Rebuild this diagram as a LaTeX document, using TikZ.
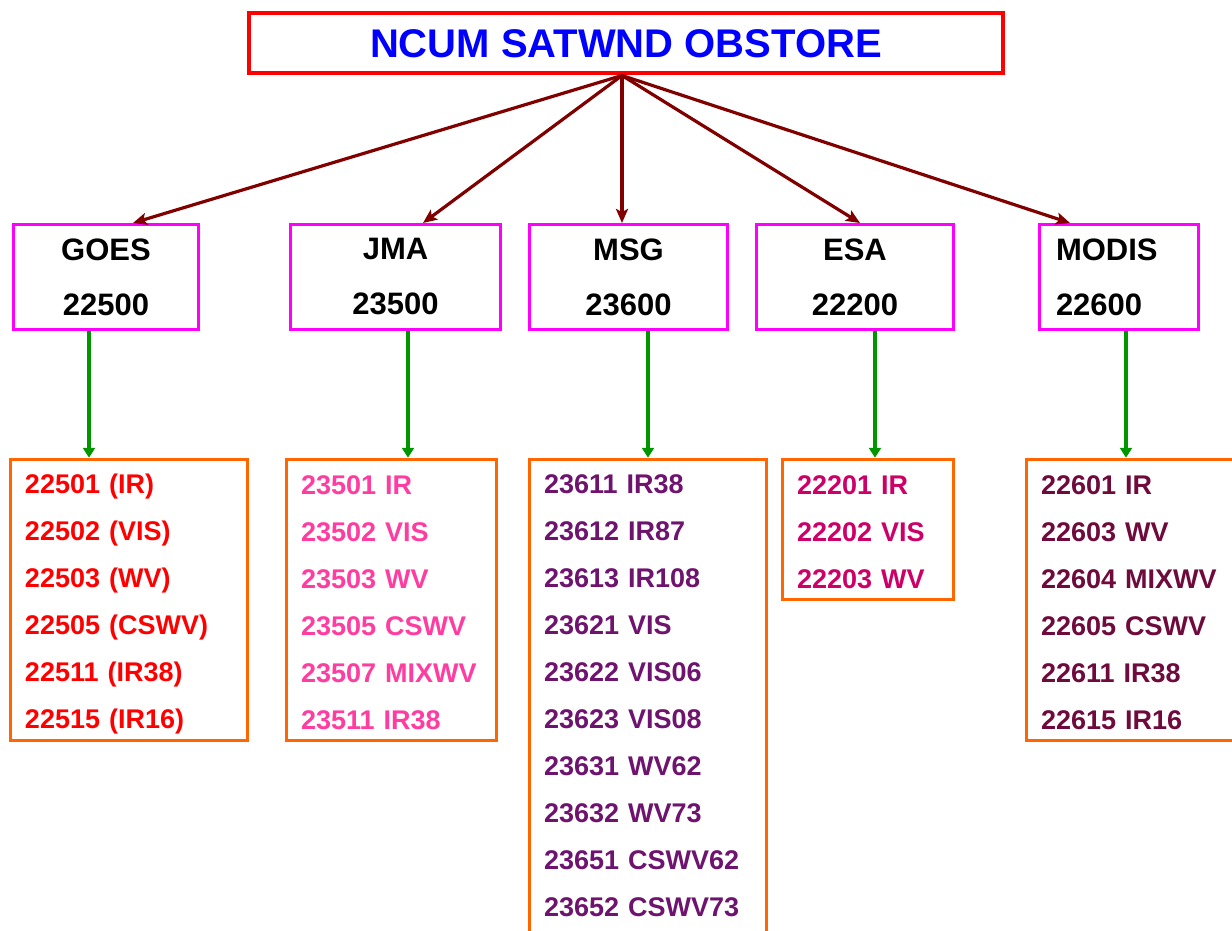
\documentclass[tikz,border=0pt]{standalone}
\usepackage{fontspec}
\setmainfont{Liberation Sans}
\usetikzlibrary{arrows.meta}
\definecolor{titleblue}{RGB}{0,0,255}
\definecolor{titlered}{RGB}{255,0,0}
\definecolor{feedred}{RGB}{128,0,0}
\definecolor{srcmag}{RGB}{255,0,255}
\definecolor{subgreen}{RGB}{0,150,0}
\definecolor{listorange}{RGB}{255,102,0}
\definecolor{goestext}{RGB}{255,0,0}
\definecolor{jmatext}{RGB}{255,60,160}
\definecolor{msgtext}{RGB}{110,20,110}
\definecolor{esatext}{RGB}{204,0,102}
\definecolor{moditext}{RGB}{110,10,60}

\begin{document}
\begin{tikzpicture}[x=0.5pt,y=-0.5pt,
  titlebox/.style={draw=titlered,line width=2pt,minimum width=377pt,minimum height=30pt,
    text=titleblue,font=\bfseries\fontsize{20}{24}\selectfont},
  srcbox/.style={draw=srcmag,line width=1.5pt,minimum width=#1,minimum height=52.5pt,
    inner sep=0pt,align=center,font=\bfseries\fontsize{15.5}{27.5}\selectfont},
  listbox/.style={draw=listorange,line width=1.75pt,text width=#1,inner xsep=7.25pt,
    inner ysep=0pt,align=left,font=\bfseries\fontsize{13.5}{23.5}\selectfont},
  feedarrow/.style={draw=feedred,line width=1.6pt,-{Stealth[length=7pt,width=6pt,inset=1.5pt]}},
  subarrow/.style={draw=subgreen,line width=1.8pt,-{Triangle[length=5pt,width=6pt]}}]
\useasboundingbox (0,0) rectangle (1232,931);
% 顶层
\node[titlebox] (title) at (626,43.5) {NCUM SATWND OBSTORE};
% 卫星来源
\node[srcbox=92.5pt] (goes) at (106,277) {GOES\\22500};
\node[srcbox=105pt] (jma) at (395.5,277) {JMA\\23500};
\node[srcbox=99pt] (msg) at (628.5,277) {MSG\\23600};
\node[srcbox=98.5pt] (esa) at (855,277) {ESA\\22200};
\node[srcbox=79.5pt,align=left,text width=63pt] (modis) at (1119,277) {MODIS\\22600};
% 子类型列表
\node[listbox=104pt,minimum height=140.5pt,text=goestext] (goes-list) at (129,600)
  {\rule{0pt}{13.7pt}22501 (IR)\\22502 (VIS)\\22503 (WV)\\22505 (CSWV)\\22511 (IR38)\\22515 (IR16)};
\node[listbox=90.5pt,minimum height=140.5pt,text=jmatext] (jma-list) at (391.5,600)
  {\rule{0pt}{11.7pt}23501 IR\\23502 VIS\\23503 WV\\23505 CSWV\\23507 MIXWV\\23511 IR38};
\node[listbox=104pt,minimum height=236.5pt,text=msgtext] (msg-list) at (648,696)
  {23611 IR38\\23612 IR87\\23613 IR108\\23621 VIS\\23622 VIS06\\23623 VIS08\\23631 WV62\\23632 WV73\\23651 CSWV62\\23652 CSWV73};
\node[listbox=71pt,minimum height=70pt,text=esatext] (esa-list) at (868,529.5)
  {\rule{0pt}{11.7pt}22201 IR\\22202 VIS\\22203 WV};
\node[listbox=90.5pt,minimum height=140.5pt,text=moditext] (modis-list) at (1131.5,600)
  {\rule{0pt}{11.7pt}22601 IR\\22603 WV\\22604 MIXWV\\22605 CSWV\\22611 IR38\\22615 IR16};
% 箭头：顶层到来源
\foreach \n/\dx in {goes/13.5pt,jma/13.75pt,msg/-3.25pt,esa/2.5pt,modis/-24.5pt}
  \draw[feedarrow] ([xshift=-2pt]title.south) -- ([xshift=\dx]\n.north);
% 箭头：来源到列表
\foreach \n/\dx in {goes/-8.5pt,jma/6.25pt,msg/9.75pt,esa/10pt,modis/3.5pt}
  \draw[subarrow] ([xshift=\dx]\n.south) -- ([xshift=\dx]\n.south |- \n-list.north);
\end{tikzpicture}
\end{document}
